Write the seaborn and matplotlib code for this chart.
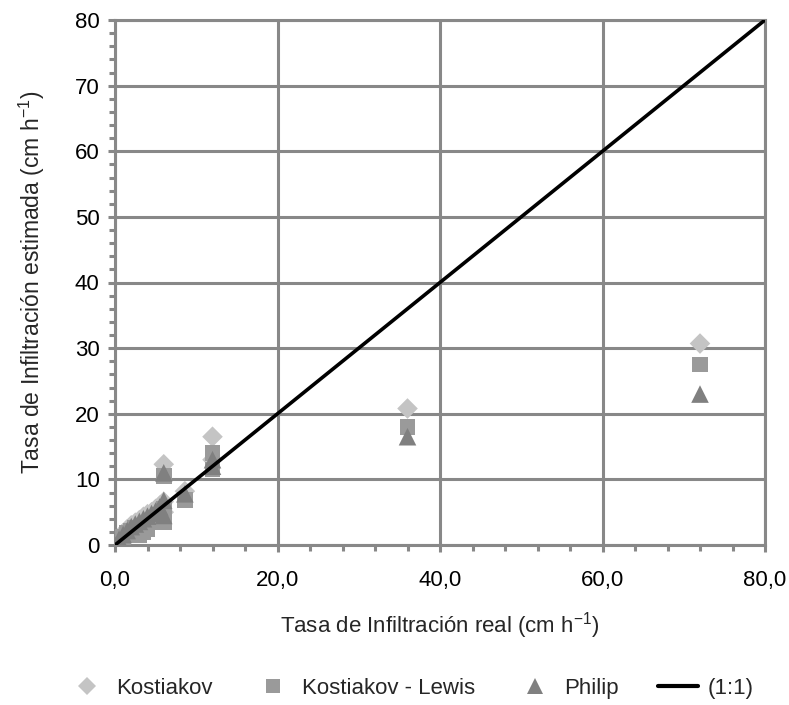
import matplotlib
matplotlib.use("Agg")
import matplotlib.pyplot as plt
import seaborn as sns
import pandas as pd
import numpy as np
from matplotlib.ticker import MultipleLocator, FuncFormatter
from matplotlib.lines import Line2D

real_x = [0, 0.5, 1, 1.5, 2, 2.5, 3, 3.5, 4, 4.5, 5, 5.5, 6, 6, 6, 8.6, 12, 12, 36, 72]
kostiakov = [0, 1.0, 1.8, 2.4, 3.0, 3.4, 3.8, 4.3, 4.7, 5.0, 5.5, 6.0, 6.6, 12.3, 5.0, 8.2, 16.5, 13.0, 20.8, 30.7]
kost_lewis = [0, 0.6, 1.2, 1.8, 2.2, 2.6, 1.5, 2.0, 2.5, 3.5, 4.0, 4.6, 5.5, 10.5, 3.5, 6.8, 14.0, 11.5, 18.0, 27.5]
philip = [0, 0.9, 1.6, 2.2, 2.8, 3.2, 3.6, 4.0, 4.4, 4.8, 5.2, 5.8, 6.8, 11.0, 4.5, 7.8, 13.0, 12.0, 16.5, 23.0]
line_x = [0, 80]
line_y = [0, 80]

series_names = ["Kostiakov", "Kostiakov - Lewis", "Philip"]
colors = {"Kostiakov": "#c4c4c4", "Kostiakov - Lewis": "#9a9a9a", "Philip": "#808080"}
markers = {"Kostiakov": "D", "Kostiakov - Lewis": "s", "Philip": "^"}
sizes = {"Kostiakov": 110, "Kostiakov - Lewis": 130, "Philip": 160}

df = pd.DataFrame({
    "real": real_x * 3,
    "est": kostiakov + kost_lewis + philip,
    "model": [series_names[0]] * len(real_x) + [series_names[1]] * len(real_x) + [series_names[2]] * len(real_x),
})

sns.set_theme(style="white")
plt.rcParams["font.family"] = ["Liberation Sans", "DejaVu Sans"]
plt.rcParams["mathtext.default"] = "regular"

fig = plt.figure(figsize=(7.89, 7.05), dpi=100)
ax = fig.add_axes([115/789, 1-545/705, 650/789, 525/705])

gc = "#888888"
for name in series_names:
    sub = df[df["model"] == name]
    sns.scatterplot(data=sub, x="real", y="est", marker=markers[name], s=sizes[name],
                    color=colors[name], edgecolor="none", linewidth=0, ax=ax, zorder=3, legend=False)

sns.lineplot(x=line_x, y=line_y, color="black", linewidth=2.6, ax=ax, zorder=4)

ax.set_xlim(0, 80)
ax.set_ylim(0, 80)
ax.xaxis.set_major_locator(MultipleLocator(20))
ax.xaxis.set_minor_locator(MultipleLocator(4))
ax.yaxis.set_major_locator(MultipleLocator(10))
ax.yaxis.set_minor_locator(MultipleLocator(2))
ax.xaxis.set_major_formatter(FuncFormatter(lambda v, p: f"{v:.1f}".replace(".", ",")))
ax.yaxis.set_major_formatter(FuncFormatter(lambda v, p: f"{v:.0f}"))

ax.grid(True, which="major", color=gc, linewidth=2.2, zorder=0)
ax.set_axisbelow(True)
for s in ax.spines.values():
    s.set_color(gc)
    s.set_linewidth(2.2)
    s.set_visible(True)

ax.tick_params(axis="both", which="major", direction="out", length=5, width=2.2, color=gc,
               labelsize=16, labelcolor="black")
ax.tick_params(axis="both", which="minor", direction="out", length=4, width=2.2, color=gc)
ax.tick_params(axis="x", which="major", pad=13)
ax.tick_params(axis="y", which="major", pad=6)
ax.tick_params(axis="x", which="both", bottom=True)
ax.tick_params(axis="y", which="both", left=True)

ax.set_xlabel("Tasa de Infiltración real (cm h$^{-1}$)", fontsize=16, labelpad=14)
ax.set_ylabel("Tasa de Infiltración estimada (cm h$^{-1}$)", fontsize=16.5, labelpad=20)

handles = [
    Line2D([], [], linestyle="none", marker="D", markersize=9, color=colors["Kostiakov"], markeredgewidth=0),
    Line2D([], [], linestyle="none", marker="s", markersize=10, color=colors["Kostiakov - Lewis"], markeredgewidth=0),
    Line2D([], [], linestyle="none", marker="^", markersize=11, color=colors["Philip"], markeredgewidth=0),
    Line2D([], [], color="black", linewidth=3),
]
labels = ["Kostiakov", "Kostiakov - Lewis", "Philip", "(1:1)"]
fig.legend(handles, labels, loc="center", bbox_to_anchor=(0.52, 0.024), ncol=4, frameon=False,
           fontsize=16, handlelength=1.8, columnspacing=1.8, handletextpad=0.4)

fig.savefig("out.png", dpi=100, facecolor="white")
